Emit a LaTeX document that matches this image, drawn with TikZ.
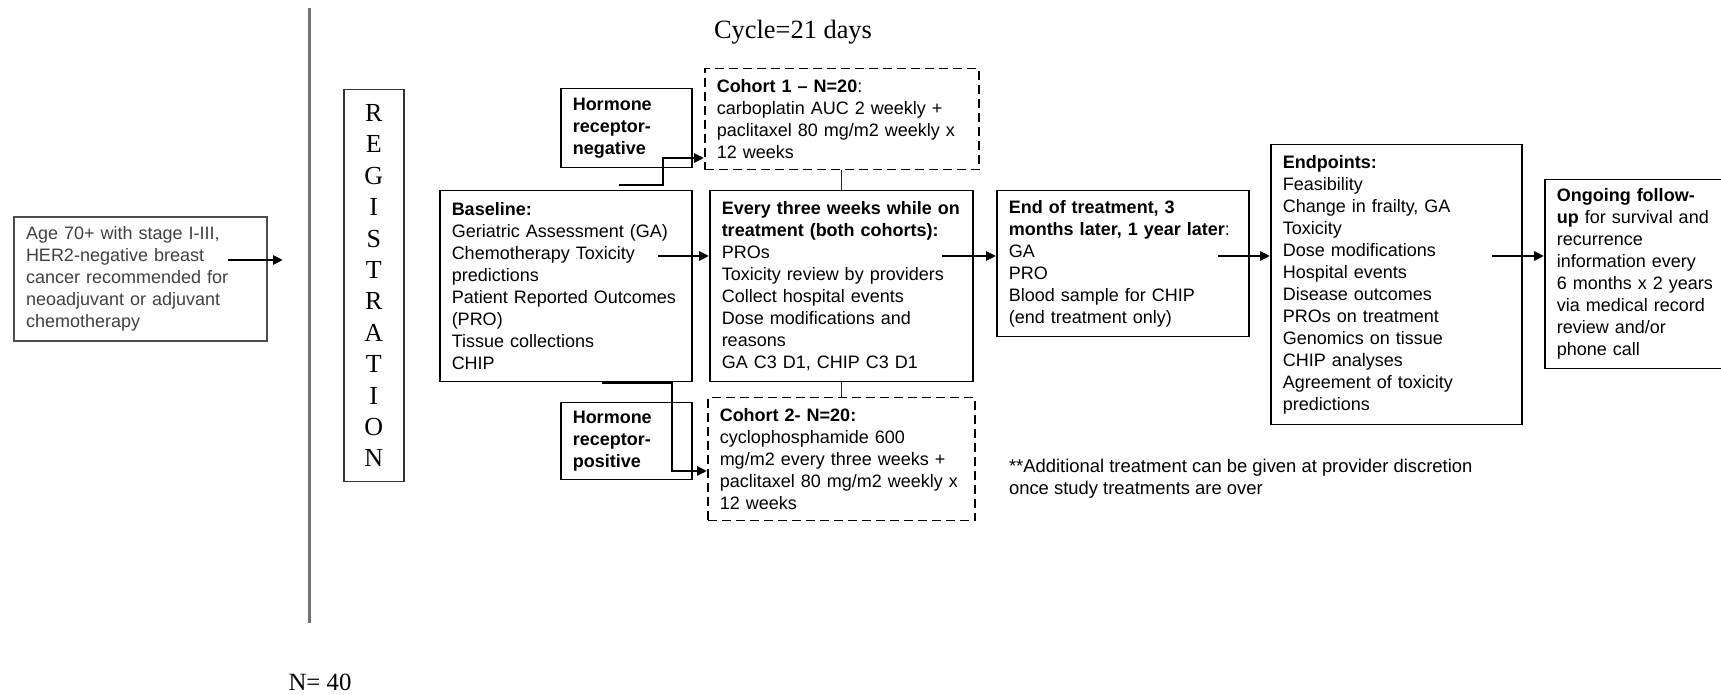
\documentclass[tikz,border=0pt]{standalone}
\usepackage{fontspec}
\setmainfont{Liberation Sans}
\newfontfamily\tnr{Liberation Serif}
\usetikzlibrary{arrows.meta}
\begin{document}
\begin{tikzpicture}[x=0.5pt,y=-0.5pt,
  every node/.style={font=\fontsize{9}{11}\selectfont},
  box/.style={draw, line width=0.75pt, anchor=north west, align=left, inner xsep=6pt, inner ysep=0pt},
  dbox/.style={box, dash pattern=on 4.5pt off 2.5pt},
  arr/.style={line width=1.35pt, -{Triangle[length=5pt,width=4.5pt]}},
  thinline/.style={line width=0.6pt, black!85},
  serif/.style={font=\tnr\fontsize{12.4}{14}\selectfont},
]
\path[use as bounding box, clip] (0,0) rectangle (1721,695);

% gray divider
\draw[line width=1.5pt, black!55] (309,8) -- (309,623);

% titles
\node[serif, font=\tnr\fontsize{13.2}{15}\selectfont] (cycle) at (793,32) {Cycle=21 days};
\node[serif] (ntot) at (320,682) {N= 40};

% eligibility
\node[box, draw=black!70, line width=1pt, text=black!75, text width=114.5pt, minimum height=62pt] (age) at (13,216)
  {Age 70+ with stage I-III,\\HER2-negative breast\\cancer recommended for\\neoadjuvant or adjuvant\\chemotherapy};

% registration
\node[draw=black!80, line width=0.75pt, anchor=north west, align=center, minimum width=30pt, minimum height=196pt, inner sep=0pt,
      font=\tnr\fontsize{13}{15.7}\selectfont] (reg) at (343,89)
  {R\\E\\G\\I\\S\\T\\R\\A\\T\\I\\O\\N};

% hormone boxes
\node[box, text width=53.5pt, minimum height=39.5pt, font=\bfseries\fontsize{9}{11}\selectfont] (hrneg) at (560,88)
  {Hormone\\receptor-\\negative};
\node[box, text width=53.5pt, minimum height=38.5pt, font=\bfseries\fontsize{9}{11}\selectfont] (hrpos) at (560,402)
  {Hormone\\receptor-\\positive};

% cohorts
\node[dbox, text width=125pt, minimum height=50.5pt] (c1) at (704,68)
  {\textbf{Cohort 1 – N=20}:\\carboplatin AUC 2 weekly +\\paclitaxel 80 mg/m2 weekly x\\12 weeks};
\node[dbox, text width=121.5pt, minimum height=61.5pt] (c2) at (707,397)
  {\textbf{Cohort 2- N=20:}\\cyclophosphamide 600\\mg/m2 every three weeks +\\paclitaxel 80 mg/m2 weekly x\\12 weeks};

% main flow
\node[box, text width=114pt, minimum height=95.5pt] (base) at (439,190)
  {\textbf{Baseline:}\\Geriatric Assessment (GA)\\Chemotherapy Toxicity\\predictions\\Patient Reported Outcomes\\(PRO)\\Tissue collections\\CHIP};
\node[box, text width=119.5pt, minimum height=95.5pt] (every) at (709,190)
  {\textbf{Every three weeks while on}\\\textbf{treatment (both cohorts):}\\PROs\\Toxicity review by providers\\Collect hospital events\\Dose modifications and\\reasons\\GA C3 D1, CHIP C3 D1};
\node[box, text width=114pt, minimum height=73pt] (end) at (996,190)
  {\textbf{End of treatment, 3}\\\textbf{months later, 1 year later}:\\GA\\PRO\\Blood sample for CHIP\\(end treatment only)};
\node[box, text width=113.5pt, minimum height=140pt] (endp) at (1270,144)
  {\textbf{Endpoints:}\\Feasibility\\Change in frailty, GA\\Toxicity\\Dose modifications\\Hospital events\\Disease outcomes\\PROs on treatment\\Genomics on tissue\\CHIP analyses\\Agreement of toxicity\\predictions};
\node[box, text width=88pt, minimum height=94.5pt] (ong) at (1544,179)
  {\textbf{Ongoing follow-}\\\textbf{up} for survival and\\recurrence\\information every\\6 months x 2 years\\via medical record\\review and/or\\phone call};

% note
\node[anchor=west, align=left, font=\fontsize{9.2}{11.2}\selectfont] (note) at (1002,479)
  {**Additional treatment can be given at provider discretion\\once study treatments are over};

% connectors
\coordinate (ageout) at (228,260);
\coordinate (regin) at (283,260);
\draw[arr] (ageout) -- (regin);

\coordinate (bout) at (658,256);
\draw[arr] (bout) -- (bout -| every.west);

\coordinate (eout) at (942,256);
\draw[arr] (eout) -- (eout -| end.west);

\coordinate (enout) at (1218,256);
\draw[arr] (enout) -- (enout -| endp.west);

\coordinate (epout) at (1492,256);
\draw[arr] (epout) -- (epout -| ong.west);

\coordinate (n1) at (619,185);
\coordinate (n2) at (663,158);
\draw[arr] (n1) -| (n2) -- (n2 -| c1.west);

\coordinate (p1) at (602,383);
\coordinate (p2) at (672,471);
\draw[arr] (p1) -| (p2) -- (p2 -| c2.west);

\draw[thinline] (c1.south) -- (c1.south |- every.north);
\draw[thinline] (every.south) -- (every.south |- c2.north);
\end{tikzpicture}
\end{document}
